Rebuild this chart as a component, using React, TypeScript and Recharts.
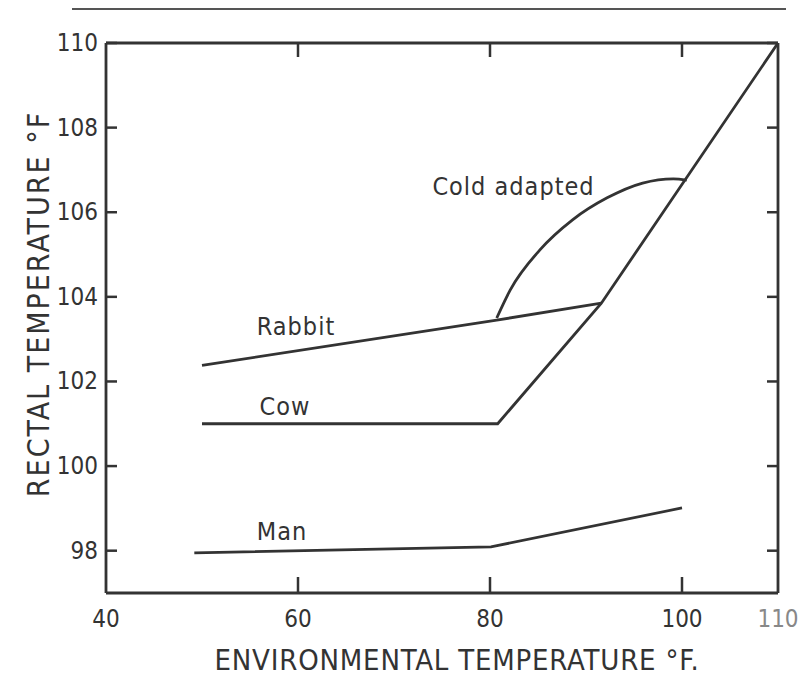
import { LineChart, Line, XAxis, YAxis, ReferenceDot } from "recharts"

const xTicks = [40, 60, 80, 100, 110]
const topTicks = [60, 80, 100]
const yTicks = [98, 100, 102, 104, 106, 108, 110]
const xDomain = [40, 110]
const yDomain = [97, 110]

// curves (environmental °F -> rectal °F)
const rabbit = [
  { x: 50, y: 102.38 },
  { x: 80.7, y: 103.45 },
  { x: 91.6, y: 103.85 },
]
const cow = [
  { x: 50, y: 101.0 },
  { x: 80.8, y: 101.0 },
  { x: 91.6, y: 103.85 },
  { x: 110, y: 110 },
]
const man = [
  { x: 49.2, y: 97.95 },
  { x: 80.1, y: 98.09 },
  { x: 100, y: 99.01 },
]
const coldAdapted = [
  { x: 80.7, y: 103.5 },
  { x: 82.1, y: 104.16 },
  { x: 85.2, y: 105.11 },
  { x: 88.6, y: 105.82 },
  { x: 92.2, y: 106.34 },
  { x: 95.9, y: 106.69 },
  { x: 99.1, y: 106.79 },
  { x: 100.5, y: 106.76 },
]

const notes = [
  { text: "Cold adapted", x: 74.0, y: 106.4 },
  { text: "Rabbit", x: 55.7, y: 103.1 },
  { text: "Cow", x: 56.0, y: 101.2 },
  { text: "Man", x: 55.7, y: 98.25 },
]

const INK = "#333"
const FONT = "'Liberation Sans Narrow', 'DejaVu Sans Condensed', sans-serif"
const W = 807
const H = 679
const MARGIN = { top: 42, right: 28, bottom: 0, left: 0 }
const X_AXIS_H = 86
const Y_AXIS_W = 106
const PLOT_LEFT = MARGIN.left + Y_AXIS_W
const PLOT_TOP = MARGIN.top + 1
const PLOT_W = W - PLOT_LEFT - MARGIN.right - 1

// same linear mapping as the chart's x axis, used for the top border marks
const xPos = (v: number) => PLOT_LEFT + ((v - xDomain[0]) / (xDomain[1] - xDomain[0])) * PLOT_W

const BottomTick = (props: any) => {
  const { x, y, payload } = props
  const edge = payload.value === 40 || payload.value === 110
  return (
    <g>
      {!edge && <line x1={x} x2={x} y1={y} y2={y - 16} stroke={INK} strokeWidth={2.5} />}
      <text
        x={x}
        y={y + 34}
        textAnchor="middle"
        fontFamily={FONT}
        fontSize={24}
        fill={payload.value === 110 ? "#888" : INK}
      >
        {payload.value}
      </text>
    </g>
  )
}

const LeftTick = (props: any) => {
  const { x, y, payload } = props
  return (
    <g>
      <line x1={x} x2={x + 11} y1={y} y2={y} stroke={INK} strokeWidth={2.5} />
      <text x={x - 8} y={y + 8} textAnchor="end" fontFamily={FONT} fontSize={24} fill={INK}>
        {payload.value}
      </text>
    </g>
  )
}

const RightTick = (props: any) => {
  const { x, y } = props
  return <line x1={x} x2={x - 11} y1={y} y2={y} stroke={INK} strokeWidth={2.5} />
}

const XTitle = (props: any) => {
  const { x, y, width } = props.viewBox
  return (
    <text x={x + width / 2 + 15} y={y + 77} textAnchor="middle" fontFamily={FONT} fontSize={29} letterSpacing={0.8} fill={INK}>
      ENVIRONMENTAL TEMPERATURE °F.
    </text>
  )
}

const YTitle = (props: any) => {
  const { y, height } = props.viewBox
  const cx = 38
  const cy = y + height / 2 - 14
  return (
    <text
      x={cx}
      y={cy}
      dy="0.35em"
      textAnchor="middle"
      transform={`rotate(-90, ${cx}, ${cy})`}
      fontFamily={FONT}
      fontSize={30}
      letterSpacing={2}
      fill={INK}
    >
      RECTAL TEMPERATURE °F
    </text>
  )
}

export default function App() {
  return (
    <div style={{ position: "absolute", left: 0, top: 0, width: W, height: H, background: "#fff" }}>
      <div style={{ position: "absolute", left: 72, top: 8, width: 714, height: 2, background: "#555" }} />
      <LineChart width={W} height={H} margin={MARGIN}>
        <XAxis
          dataKey="x"
          type="number"
          domain={xDomain}
          ticks={xTicks}
          interval={0}
          height={X_AXIS_H}
          tickSize={0}
          tickMargin={0}
          tickLine={false}
          axisLine={{ stroke: INK, strokeWidth: 2.8 }}
          tick={<BottomTick />}
          label={<XTitle />}
          allowDataOverflow
        />
        <XAxis
          xAxisId="top"
          orientation="top"
          dataKey="x"
          type="number"
          domain={xDomain}
          height={1}
          tick={false}
          tickLine={false}
          axisLine={{ stroke: INK, strokeWidth: 2.8 }}
          allowDataOverflow
        />
        <YAxis
          type="number"
          domain={yDomain}
          ticks={yTicks}
          interval={0}
          width={Y_AXIS_W}
          tickSize={0}
          tickMargin={0}
          tickLine={false}
          axisLine={{ stroke: INK, strokeWidth: 2.8 }}
          tick={<LeftTick />}
          label={<YTitle />}
          allowDataOverflow
        />
        <YAxis
          yAxisId="right"
          orientation="right"
          type="number"
          domain={yDomain}
          ticks={yTicks}
          interval={0}
          width={1}
          tickSize={0}
          tickMargin={0}
          tickLine={false}
          axisLine={{ stroke: INK, strokeWidth: 2.8 }}
          tick={<RightTick />}
          allowDataOverflow
        />
        {/* cow sits on the top axis and man on the right axis (same domains) so those frame axes are live */}
        <Line xAxisId="top" data={cow} dataKey="y" type="linear" stroke={INK} strokeWidth={2.8} dot={false} isAnimationActive={false} />
        <Line data={rabbit} dataKey="y" type="linear" stroke={INK} strokeWidth={2.8} dot={false} isAnimationActive={false} />
        <Line yAxisId="right" data={man} dataKey="y" type="linear" stroke={INK} strokeWidth={2.8} dot={false} isAnimationActive={false} />
        <Line data={coldAdapted} dataKey="y" type="monotone" stroke={INK} strokeWidth={2.8} dot={false} isAnimationActive={false} />
        {notes.map((n) => (
          <ReferenceDot
            key={n.text}
            x={n.x}
            y={n.y}
            r={0}
            shape={(p: any) => (
              <text x={p.cx} y={p.cy} fontFamily={FONT} fontSize={25} letterSpacing={1} fill={INK}>
                {n.text}
              </text>
            )}
          />
        ))}
      </LineChart>
      <svg width={W} height={H} style={{ position: "absolute", left: 0, top: 0, pointerEvents: "none" }}>
        {topTicks.map((t) => (
          <line key={t} x1={xPos(t)} x2={xPos(t)} y1={PLOT_TOP} y2={PLOT_TOP + 14} stroke={INK} strokeWidth={2.5} />
        ))}
      </svg>
    </div>
  )
}
